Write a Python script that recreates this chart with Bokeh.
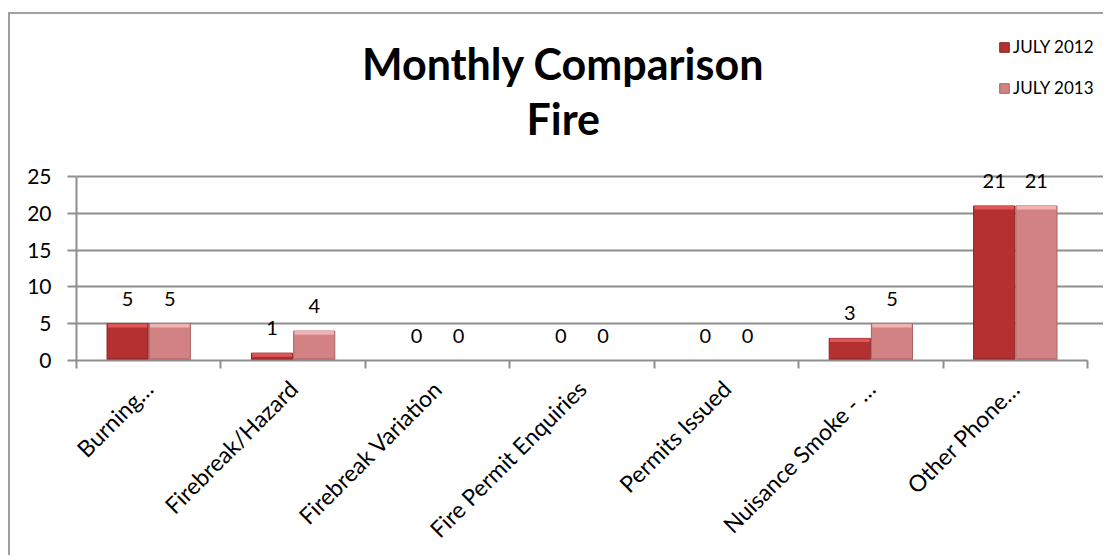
import numpy as np
from bokeh.plotting import figure
from bokeh.models import (Range1d, FixedTicker, Label, Legend, LegendItem, ColumnDataSource)
from bokeh.core.properties import value
from bokeh.embed import file_html
from bokeh.resources import INLINE

categories = ["Burning…", "Firebreak/Hazard", "Firebreak Variation",
              "Fire Permit Enquiries", "Permits Issued", "Nuisance Smoke - …",
              "Other Phone…"]
july_2012 = [5, 1, 0, 0, 0, 3, 21]
july_2013 = [5, 4, 0, 0, 0, 5, 21]
series_names = ["JULY 2012", "JULY 2013"]
y_ticks = [0, 5, 10, 15, 20, 25]
title_lines = ["Monthly Comparison", "Fire"]

FONT = "Lato"
n = len(categories)
centers = np.arange(n) + 0.5
boundaries = np.arange(n + 1)

# layout (pixels on the canvas)
W, H = 1095, 543
LEFT, BOTTOM = 66, 197
AXIS_W, AXIS_H = 1011, 184            # length of the drawn axes
y_max = 25
frame_w, frame_h = W - LEFT, H - BOTTOM
x_end = n * frame_w / AXIS_W
y_end = y_max * frame_h / AXIS_H

p = figure(width=W, height=H, output_backend="svg", toolbar_location=None,
           x_range=Range1d(0, x_end), y_range=Range1d(0, y_end),
           min_border_left=LEFT, min_border_right=0, min_border_top=0,
           min_border_bottom=BOTTOM)
p.margin = (12, 0, 0, 8)
p.styles = {"border-left": "2px solid #a0a0a0", "border-top": "2px solid #a0a0a0"}
p.outline_line_color = None
p.background_fill_color = "white"
p.border_fill_color = "white"

GRAY = "#8e8e8e"
# grid
p.xgrid.visible = False
p.ygrid.ticker = FixedTicker(ticks=y_ticks)
p.ygrid.grid_line_color = GRAY
p.ygrid.grid_line_width = 2
p.ygrid.bounds = (0, n)

# y axis
p.yaxis.ticker = FixedTicker(ticks=y_ticks)
p.yaxis.bounds = (0, y_max)
p.yaxis.axis_line_color = GRAY
p.yaxis.axis_line_width = 2
p.yaxis.major_tick_line_color = GRAY
p.yaxis.major_tick_line_width = 2
p.yaxis.major_tick_out = 9
p.yaxis.major_tick_in = 0
p.yaxis.minor_tick_line_color = None
p.yaxis.major_label_standoff = 16
p.yaxis.major_label_text_font = FONT
p.yaxis.major_label_text_font_size = "21px"
p.yaxis.major_label_text_color = "black"

# x axis: labels at category centres, tick marks at category boundaries
p.xaxis.ticker = FixedTicker(ticks=list(centers), minor_ticks=list(boundaries))
p.xaxis.bounds = (0, n)
p.xaxis.major_label_overrides = {float(c): lab for c, lab in zip(centers, categories)}
p.xaxis.major_label_orientation = np.pi / 4
p.xaxis.major_tick_line_color = None
p.xaxis.minor_tick_line_color = GRAY
p.xaxis.minor_tick_line_width = 2
p.xaxis.minor_tick_out = 8
p.xaxis.minor_tick_in = 0
p.xaxis.axis_line_color = GRAY
p.xaxis.axis_line_width = 2
p.xaxis.major_label_standoff = 16
p.xaxis.major_label_text_font = FONT
p.xaxis.major_label_text_font_size = "23px"
p.xaxis.major_label_text_color = "black"

off = 0.146
bw = 0.285
a12 = np.array(july_2012, dtype=float)
a13 = np.array(july_2013, dtype=float)
src = ColumnDataSource(dict(
    x1=centers - off, x2=centers + off,
    v1=a12, v2=a13,
    h1=np.maximum(a12 - 0.5, 0), h2=np.maximum(a13 - 0.5, 0),
    b1=np.minimum(a12, 0.3), b2=np.minimum(a13, 0.3),
    t1=[str(v) for v in july_2012], t2=[str(v) for v in july_2013],
))

r1 = p.vbar(x="x1", top="v1", width=bw, source=src, fill_color="#b53030",
            line_color="#8a2222", line_width=1)
r2 = p.vbar(x="x2", top="v2", width=bw, source=src, fill_color="#d28282",
            line_color="#a86262", line_width=1)
# bevel: highlight at the top, shade at the bottom
p.vbar(x="x1", top="v1", bottom="h1", width=bw * 0.96, source=src, fill_color="#e05656",
       line_color=None)
p.vbar(x="x2", top="v2", bottom="h2", width=bw * 0.96, source=src, fill_color="#f0b2b2",
       line_color=None)
p.vbar(x="x1", top="b1", width=bw * 0.96, source=src, fill_color="#962424", line_color=None)
p.vbar(x="x2", top="b2", width=bw * 0.96, source=src, fill_color="#b46c6c", line_color=None)

# data labels
for xcol, vcol, tcol in (("x1", "v1", "t1"), ("x2", "v2", "t2")):
    p.text(x=xcol, y=vcol, text=tcol, source=src, y_offset=-25,
           text_align="center", text_baseline="middle",
           text_font=value(FONT), text_font_size="20px", text_color="black")

# title (two lines)
p.add_layout(Label(x=3.37, y=40.35, text=title_lines[0], text_align="center",
                   text_baseline="middle", text_font=FONT, text_font_size="43px",
                   text_font_style="bold", text_color="black"))
p.add_layout(Label(x=3.37, y=32.9, text=title_lines[1], text_align="center",
                   text_baseline="middle", text_font=FONT, text_font_size="43px",
                   text_font_style="bold", text_color="black"))

legend = Legend(items=[LegendItem(label=series_names[0], renderers=[r1]),
                       LegendItem(label=series_names[1], renderers=[r2])],
                location=(922, 262), orientation="vertical",
                glyph_width=12, glyph_height=12, label_height=20, spacing=20,
                label_standoff=3, padding=0, margin=0,
                border_line_color=None, background_fill_alpha=0,
                label_text_font=FONT, label_text_font_size="17px",
                label_text_color="black")
p.add_layout(legend, "center")

open("out.html", "w").write(file_html(p, INLINE))
